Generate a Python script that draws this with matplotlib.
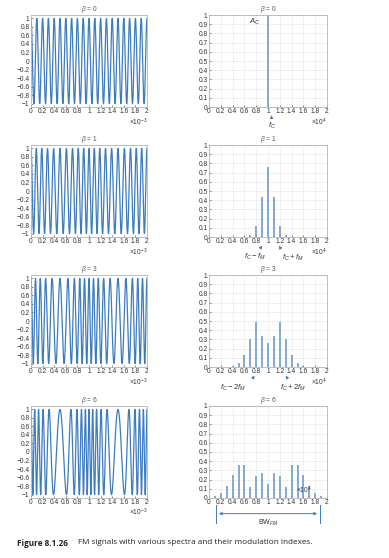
import numpy as np
import matplotlib
matplotlib.use("Agg")
import matplotlib.pyplot as plt

plt.rcParams['font.family'] = ['Liberation Sans', 'DejaVu Sans']
plt.rcParams['mathtext.fontset'] = 'custom'
plt.rcParams['mathtext.rm'] = 'Liberation Sans'
plt.rcParams['mathtext.it'] = 'Liberation Sans:italic'

# carrier / modulation (x10^4 Hz, x10^-3 s)
FC = 1.0e4
FM = 1.0e3
BETAS = [0, 1, 3, 6]

# spectrum lines, frequency in units of 10^4 Hz
freq_b0 = [1.0]
amp_b0 = [1.0]
freq_b1 = [0.7, 0.8, 0.9, 1.0, 1.1, 1.2, 1.3]
amp_b1 = [0.02, 0.115, 0.44, 0.765, 0.44, 0.115, 0.02]
freq_b3 = [0.4, 0.5, 0.6, 0.7, 0.8, 0.9, 1.0, 1.1, 1.2, 1.3, 1.4, 1.5, 1.6]
amp_b3 = [0.011, 0.043, 0.132, 0.309, 0.486, 0.339, 0.26, 0.339, 0.486, 0.309, 0.132, 0.043, 0.011]
freq_b6 = [0.1, 0.2, 0.3, 0.4, 0.5, 0.6, 0.7, 0.8, 0.9, 1.0,
           1.1, 1.2, 1.3, 1.4, 1.5, 1.6, 1.7, 1.8, 1.9]
amp_b6 = [0.021, 0.057, 0.13, 0.246, 0.362, 0.358, 0.115, 0.243, 0.277, 0.151,
          0.277, 0.243, 0.115, 0.358, 0.362, 0.246, 0.13, 0.057, 0.021]
spectra = [(freq_b0, amp_b0), (freq_b1, amp_b1), (freq_b3, amp_b3), (freq_b6, amp_b6)]

t_ticks = [0, 0.2, 0.4, 0.6, 0.8, 1, 1.2, 1.4, 1.6, 1.8, 2]
t_labels = ["0", "0.2", "0.4", "0.6", "0.8", "1", "1.2", "1.4", "1.6", "1.8", "2"]
sig_yticks = [1, 0.8, 0.6, 0.4, 0.2, 0, -0.2, -0.4, -0.6, -0.8, -1]
sig_ylabels = ["1", "0.8", "0.6", "0.4", "0.2", "0", "\u22120.2", "\u22120.4",
               "\u22120.6", "\u22120.8", "\u22121"]
spec_yticks = [0, 0.1, 0.2, 0.3, 0.4, 0.5, 0.6, 0.7, 0.8, 0.9, 1]
spec_ylabels = ["0", "0.1", "0.2", "0.3", "0.4", "0.5", "0.6", "0.7", "0.8", "0.9", "1"]

LINE = "#3d7cc0"
STEM = "#7ba3cf"
FRAME = "#b5b5b5"
TXT = "#333333"
FS = 4.8

W, H = 389, 558
fig = plt.figure(figsize=(W / 100, H / 100), dpi=100)

row_top = [15, 145, 275, 406]
row_h = 92


def style(ax, grid=True):
    for s in ax.spines.values():
        s.set_color(FRAME)
        s.set_linewidth(0.6)
    ax.tick_params(labelsize=FS, colors=TXT, length=1.5, width=0.4, direction="in", pad=1)
    if grid:
        ax.grid(True, color="#cfcfcf", linestyle=(0, (1, 1.5)), linewidth=0.5)
    ax.set_axisbelow(True)


t = np.linspace(0, 2e-3, 8001)
for i, beta in enumerate(BETAS):
    bottom = 1 - (row_top[i] + row_h) / H
    # time signal
    ax = fig.add_axes([31 / W, bottom, 116 / W, row_h / H])
    sig = np.cos(2 * np.pi * FC * t + beta * np.sin(2 * np.pi * FM * t))
    ax.plot(t * 1e3, sig, color=LINE, lw=0.9)
    ax.set_xlim(0, 2)
    ax.set_ylim(-1.08, 1.08)
    ax.set_xticks(t_ticks, t_labels)
    ax.set_yticks(sig_yticks, sig_ylabels)
    style(ax, grid=False)
    ax.set_title(r"$\beta$ = %d" % beta, fontsize=FS, color="#555555", pad=2)
    ax.text(1.0, -0.1, r"$\times10^{-3}$", transform=ax.transAxes, ha="right",
            va="top", fontsize=FS, color=TXT)

    # spectrum
    ax2 = fig.add_axes([209 / W, bottom, 118 / W, row_h / H])
    f, a = spectra[i]
    ax2.vlines(f, 0, a, color=STEM, lw=1.3)
    ax2.set_xlim(0, 2)
    ax2.set_ylim(0, 1)
    ax2.set_xticks(t_ticks, t_labels)
    ax2.set_yticks(spec_yticks, spec_ylabels)
    style(ax2)
    ax2.set_title(r"$\beta$ = %d" % beta, fontsize=FS, color="#555555", pad=2)
    if i < 3:
        ax2.text(1.0, -0.1, r"$\times10^{4}$", transform=ax2.transAxes, ha="right",
                 va="top", fontsize=FS, color=TXT)
    else:
        ax2.text(0.87, 0.02, r"$\times10^{4}$", transform=ax2.transAxes, ha="right",
                 va="bottom", fontsize=FS, color=TXT)

    arrow = dict(arrowstyle="-|>", color=LINE, lw=0.7, mutation_scale=4)
    if i == 0:
        ax2.text(0.78, 0.93, r"$A_C$", fontsize=5.5, ha="center", va="center", color=TXT)
        ax2.annotate("", xy=(1.06, -0.06), xytext=(1.06, -0.14), annotation_clip=False,
                     arrowprops=arrow)
        ax2.text(1.06, -0.21, r"$f_C$", fontsize=5.5, ha="center", va="center", color=TXT)
    elif i == 1:
        ax2.annotate("", xy=(0.93, -0.07), xytext=(0.85, -0.14), annotation_clip=False,
                     arrowprops=arrow)
        ax2.text(0.77, -0.22, r"$f_C - f_M$", fontsize=5.5, ha="center", va="center", color=TXT)
        ax2.annotate("", xy=(1.16, -0.07), xytext=(1.23, -0.14), annotation_clip=False,
                     arrowprops=arrow)
        ax2.text(1.42, -0.23, r"$f_C + f_M$", fontsize=5.5, ha="center", va="center", color=TXT)
    elif i == 2:
        ax2.annotate("", xy=(0.8, -0.07), xytext=(0.72, -0.14), annotation_clip=False,
                     arrowprops=arrow)
        ax2.text(0.4, -0.23, r"$f_C - 2f_M$", fontsize=5.5, ha="center", va="center", color=TXT)
        ax2.annotate("", xy=(1.27, -0.07), xytext=(1.35, -0.14), annotation_clip=False,
                     arrowprops=arrow)
        ax2.text(1.42, -0.23, r"$f_C + 2f_M$", fontsize=5.5, ha="center", va="center", color=TXT)
    else:
        x0, x1 = 0.12, 1.88
        ax2.annotate("", xy=(x0, -0.17), xytext=(x1, -0.17), annotation_clip=False,
                     arrowprops=dict(arrowstyle="<|-|>", color=LINE, lw=0.7, mutation_scale=4))
        for xe in (x0, x1):
            ax2.plot([xe, xe], [-0.08, -0.27], color=LINE, lw=0.7, clip_on=False)
        ax2.text(1.0, -0.27, r"BW$_{FM}$", fontsize=5, ha="center", va="center", color=TXT)

fig.text(17 / W, 1 - 543 / H, "Figure 8.1.26", fontsize=5.9, fontweight="bold",
         family=["Open Sans", "DejaVu Sans"], color="#222222", va="center")
fig.text(78 / W, 1 - 543 / H, "FM signals with various spectra and their modulation indexes.",
         fontsize=5.9, family=["Open Sans", "DejaVu Sans"], color="#222222", va="center")

fig.savefig("out.png", dpi=100)
